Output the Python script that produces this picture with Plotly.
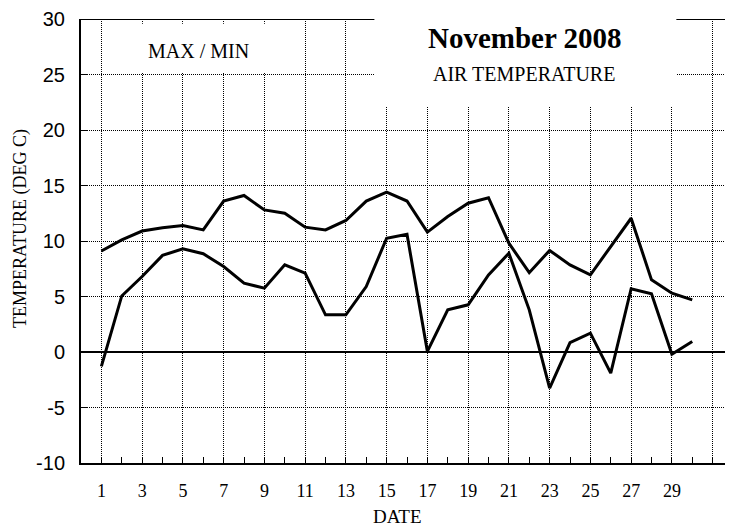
import plotly.graph_objects as go

# Daily air temperature, November 2008 (deg C)
days = list(range(1, 31))
max_temp = [9.1, 10.1, 10.9, 11.2, 11.4, 11.0, 13.6, 14.1, 12.8, 12.5,
            11.25, 11.0, 11.85, 13.6, 14.4, 13.6, 10.8, 12.2, 13.4, 13.9,
            9.8, 7.15, 9.15, 7.85, 6.95, 9.45, 12.05, 6.5, 5.3, 4.7]
min_temp = [-1.3, 5.05, 6.8, 8.7, 9.3, 8.85, 7.7, 6.2, 5.75, 7.85,
            7.1, 3.35, 3.35, 5.9, 10.25, 10.6, 0.05, 3.8, 4.25, 6.95,
            8.9, 3.8, -3.25, 0.85, 1.7, -1.9, 5.7, 5.25, -0.2, 0.95]

x_ticks = list(range(1, 32, 2))
x_labels = [str(d) for d in range(1, 30, 2)] + [""]
y_ticks = list(range(-10, 31, 5))
y_labels = [str(v) for v in y_ticks]

serif = "Liberation Serif, Times New Roman, serif"
narrow = "Liberation Sans Narrow, Liberation Sans, Arial, sans-serif"

fig = go.Figure()
fig.add_trace(go.Scatter(x=days, y=max_temp, mode="lines",
                         line=dict(color="black", width=3), name="Max"))
fig.add_trace(go.Scatter(x=days, y=min_temp, mode="lines",
                         line=dict(color="black", width=3), name="Min"))

fig.update_xaxes(range=[0, 32], tickvals=x_ticks, ticktext=x_labels,
                 showline=True, linecolor="black", linewidth=2,
                 ticks="inside", ticklen=6, tickcolor="black",
                 showgrid=True, gridcolor="black", gridwidth=1, griddash="1px,1px",
                 tickfont=dict(family=serif, size=18, color="black"),
                 ticklabelstandoff=10, zeroline=False, automargin=False,
                 minor=dict(dtick=1, tick0=0, ticks="inside", ticklen=6,
                            tickcolor="black", showgrid=False))
fig.update_yaxes(range=[-10, 30], tickvals=y_ticks, ticktext=y_labels,
                 showline=True, linecolor="black", linewidth=2,
                 ticks="inside", ticklen=7, tickcolor="black",
                 showgrid=True, gridcolor="black", gridwidth=1, griddash="1px,1px",
                 zeroline=True, zerolinecolor="black", zerolinewidth=2,
                 tickfont=dict(family=narrow, size=20, color="black"),
                 ticklabelstandoff=10, automargin=False)

# top frame line, then white boxes behind the header texts
fig.add_shape(type="line", x0=0, x1=32, y0=30, y1=30,
              line=dict(color="black", width=2), layer="above")
fig.add_shape(type="rect", x0=1.44, x1=10.28, y0=25.15, y1=29.58,
              fillcolor="white", line=dict(width=0), layer="above")
fig.add_shape(type="rect", x0=14.4, x1=29.22, y0=22.1, y1=31.8,
              fillcolor="white", line=dict(width=0), layer="above")

fig.add_annotation(x=5.76, y=27.15, text="MAX / MIN", showarrow=False,
                   font=dict(family=serif, size=20, color="black"))
fig.add_annotation(x=21.81, y=28.32, text="<b>November 2008</b>", showarrow=False,
                   font=dict(family=serif, size=29, color="black"))
fig.add_annotation(x=21.76, y=25.03, text="AIR TEMPERATURE", showarrow=False,
                   font=dict(family=serif, size=20, color="black"))
fig.add_annotation(xref="paper", yref="paper", x=0.485, y=-0.1216,
                   xanchor="center", yanchor="middle",
                   text="DATE", showarrow=False,
                   font=dict(family=serif, size=19, color="black"))
fig.add_annotation(xref="paper", yref="paper", x=-0.0936, y=0.529,
                   xanchor="center", yanchor="middle",
                   text="TEMPERATURE (DEG C)", textangle=-90, showarrow=False,
                   font=dict(family=serif, size=18, color="black"))

# page body has an 8px margin, so the plot area is offset to compensate
fig.update_layout(width=733, height=528, showlegend=False,
                  plot_bgcolor="white", paper_bgcolor="white",
                  margin=dict(l=73, r=8, t=11, b=73))

fig.write_html("out.html")
